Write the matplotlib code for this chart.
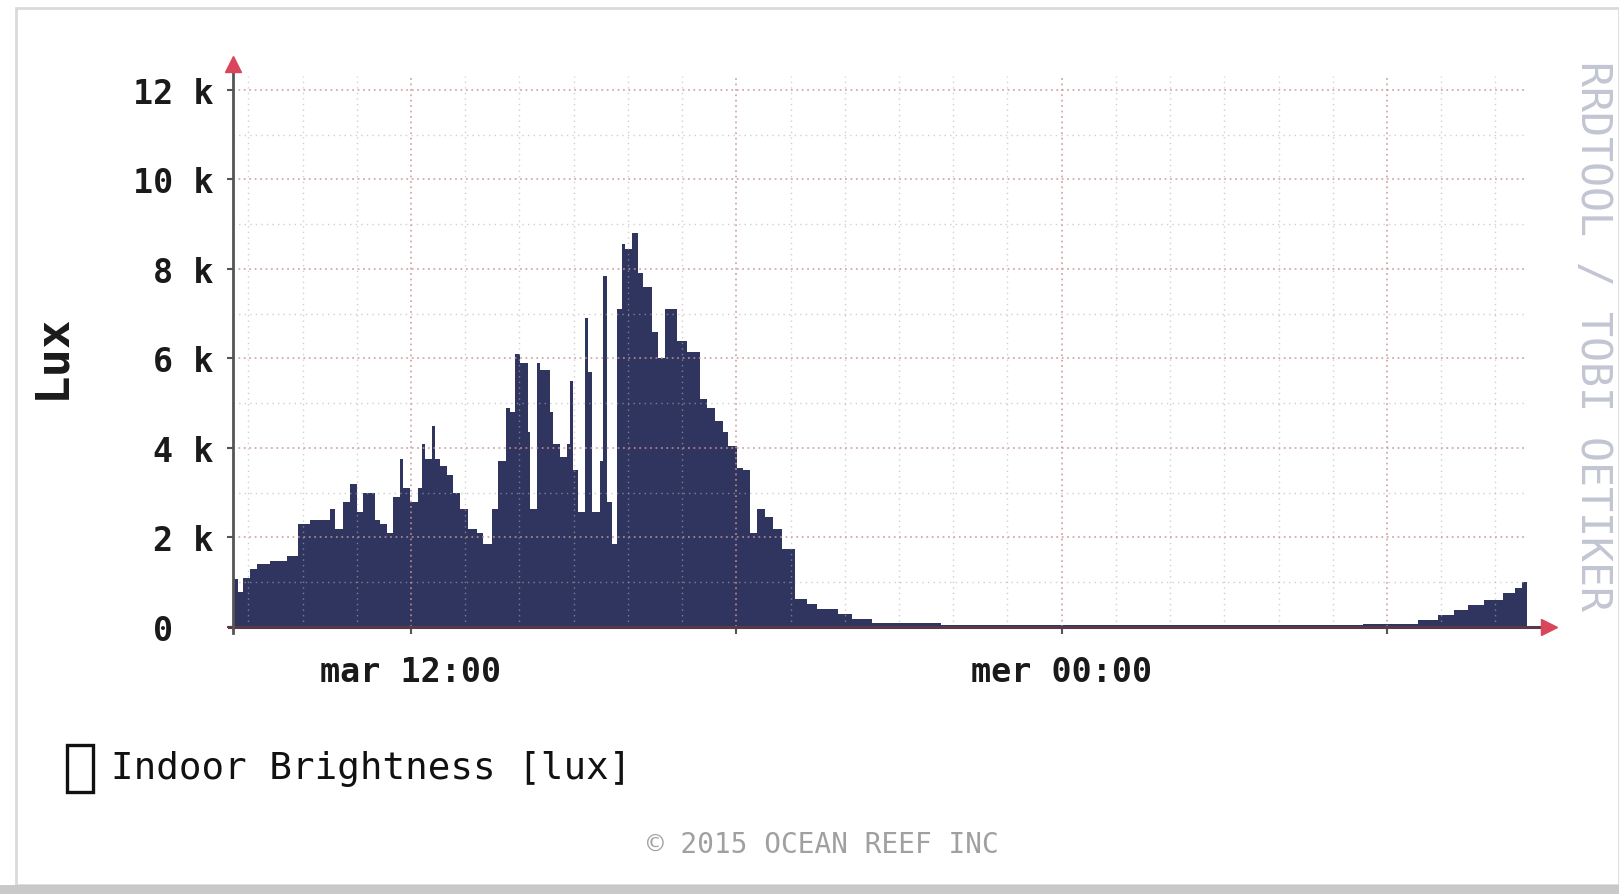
import matplotlib
matplotlib.use('Agg')
import matplotlib.pyplot as plt
from matplotlib.ticker import FixedLocator, FixedFormatter, MultipleLocator
from matplotlib.patches import Rectangle
import numpy as np

plt.rcParams['font.family'] = ['DejaVu Sans Mono', 'DejaVu Sans']

# step start times, minutes since Tuesday 00:00 (values > 1440 are Wednesday)
t_min = [523, 528, 534, 542, 550, 564, 583, 595, 608, 630, 636, 645, 652, 660,
         667, 680, 686, 693, 700, 708, 711, 719, 728, 732, 735, 743, 747, 752,
         760, 766, 774, 783, 793, 800, 810, 816, 825, 830, 835, 841, 849, 852,
         859, 863, 874, 877, 885, 893, 896, 899, 905, 913, 916, 920, 929, 932,
         937, 942, 948, 954, 957, 965, 971, 977, 987, 993, 1001, 1014, 1025,
         1040, 1048, 1056, 1065, 1071, 1081, 1087, 1095, 1103, 1112, 1121,
         1131, 1145, 1158, 1169, 1192, 1208, 1230, 1306, 1712, 1774, 1834,
         1856, 1874, 1890, 1907, 1928, 1942, 1950]
t_end = 1955

# brightness in klux for each step
lux_k = [1.07, 0.78, 1.1, 1.3, 1.4, 1.47, 1.59, 2.3, 2.4, 2.64, 2.2, 2.8, 3.2,
         2.57, 3.0, 2.4, 2.3, 2.1, 2.9, 3.75, 3.1, 2.8, 3.1, 4.1, 3.75, 4.5,
         3.75, 3.6, 3.4, 3.0, 2.64, 2.2, 2.1, 1.85, 2.64, 3.7, 4.9, 4.8, 6.1,
         5.9, 4.35, 2.64, 5.9, 5.75, 4.8, 4.1, 3.8, 4.1, 5.5, 3.5, 2.57, 6.9,
         5.7, 2.57, 3.7, 7.85, 2.8, 1.85, 7.1, 8.56, 8.45, 8.8, 7.9, 7.6, 6.6,
         6.0, 7.1, 6.4, 6.15, 5.1, 4.9, 4.6, 4.35, 4.05, 3.55, 3.5, 2.1, 2.64,
         2.45, 2.2, 1.75, 0.63, 0.51, 0.4, 0.29, 0.18, 0.1, 0.04, 0.05, 0.06,
         0.16, 0.27, 0.38, 0.5, 0.6, 0.77, 0.88, 1.0]

x_ticks = [12, 18, 24, 30]
x_labels = ['mar 12:00', '', 'mer 00:00', '']
y_ticks = [0, 2000, 4000, 6000, 8000, 10000, 12000]
y_labels = ['0  ', '2 k', '4 k', '6 k', '8 k', '10 k', '12 k']

area_col = '#30355f'
W, H = 1619, 895

fig = plt.figure(figsize=(W / 100, H / 100), dpi=100, facecolor='white')
ax = fig.add_axes([233 / W, 1 - 628 / H, 1294 / W, 551 / H])
ax.set_facecolor('white')

t = np.array(t_min + [t_end]) / 60
v = np.array(lux_k + [lux_k[-1]]) * 1000
ax.fill_between(t, v, step='post', color=area_col, lw=0, zorder=1)

ax.set_xlim(t[0], t[-1])
ax.set_ylim(0, 12312)

ax.xaxis.set_major_locator(FixedLocator(x_ticks))
ax.xaxis.set_major_formatter(FixedFormatter(x_labels))
ax.xaxis.set_minor_locator(MultipleLocator(1))
ax.yaxis.set_major_locator(FixedLocator(y_ticks))
ax.yaxis.set_major_formatter(FixedFormatter(y_labels))
ax.yaxis.set_minor_locator(MultipleLocator(1000))

ax.set_axisbelow(False)
ax.grid(which='minor', color='#b0b0b0', ls=(0, (1, 3)), lw=1, alpha=0.6)
ax.grid(which='major', color='#c99595', ls=(0, (1, 2)), lw=1.3, alpha=0.8)

ax.tick_params(which='minor', length=0)
ax.tick_params(axis='x', which='major', length=5, width=1.5, color='#555555',
               labelsize=24, pad=15, labelcolor='#1a1a1a')
ax.tick_params(axis='y', which='major', length=4, width=1.5, color='#555555',
               labelsize=24, pad=10, labelcolor='#1a1a1a')
for lab in ax.get_xticklabels() + ax.get_yticklabels():
    lab.set_fontweight('bold')

for s in ax.spines.values():
    s.set_visible(False)

# axes with arrow heads
ax.plot([-0.003, 1.012], [0, 0], transform=ax.transAxes, color='#5a3848',
        lw=2.2, clip_on=False, zorder=5)
ax.plot([0, 0], [-0.011, 1.018], transform=ax.transAxes, color='#555555',
        lw=2, clip_on=False, zorder=5)
ax.plot(1.017, 0, marker='>', ms=11, color='#d9455a', transform=ax.transAxes,
        clip_on=False, zorder=6)
ax.plot(0, 1.022, marker='^', ms=11, color='#d9455a', transform=ax.transAxes,
        clip_on=False, zorder=6)

fig.text(52 / W, 1 - 356 / H, 'Lux', rotation=90, ha='center', va='center',
         fontsize=34, fontweight='bold', color='#1a1a1a')

# legend
fig.add_artist(Rectangle((67 / W, 1 - 793 / H), 26 / W, 47 / H,
                         transform=fig.transFigure, fill=False,
                         ec='#111111', lw=2.4))
fig.text(111 / W, 1 - 769 / H, 'Indoor Brightness [lux]', fontsize=27,
         ha='left', va='center', color='#111111')

fig.text(823 / W, 1 - 845 / H, '\u00a9 2015 OCEAN REEF INC', fontsize=20,
         ha='center', va='center', color='#a0a0a0')
fig.text(1593 / W, 1 - 336 / H, 'RRDTOOL / TOBI OETIKER', rotation=270,
         fontsize=30, ha='center', va='center', color='#c2c6d2')

# scan frame
fig.add_artist(Rectangle((16 / W, 9 / H), (W - 16) / W, (886 - 9) / H,
                         transform=fig.transFigure, fill=False,
                         ec='#dadada', lw=2))
fig.add_artist(Rectangle((0, 0), 1, 9 / H, transform=fig.transFigure,
                         color='#c9c9c9', lw=0))

fig.savefig('out.png', dpi=100, facecolor=fig.get_facecolor())
